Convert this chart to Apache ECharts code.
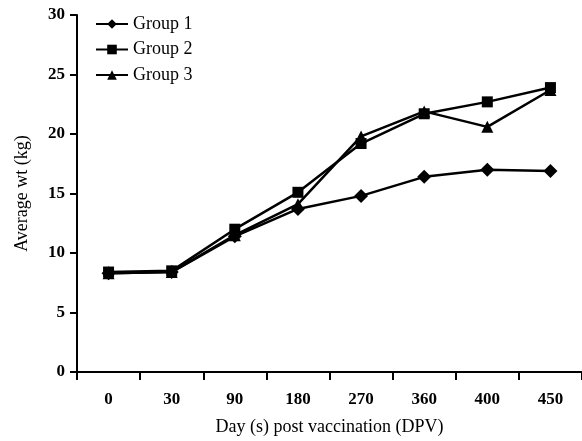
<!DOCTYPE html>
<html>
<head>
<meta charset="utf-8">
<script src="https://cdn.jsdelivr.net/npm/echarts@6/dist/echarts.min.js"></script>
<style>html,body{margin:0;padding:0;background:#fff;}#c{width:582px;height:441px;}</style>
</head>
<body>
<div id="c"></div>
<script>
var categories = ['0', '30', '90', '180', '270', '360', '400', '450'];
var group1 = [8.3, 8.4, 11.4, 13.7, 14.8, 16.4, 17.0, 16.9];
var group2 = [8.4, 8.5, 12.0, 15.1, 19.2, 21.7, 22.7, 23.9];
var group3 = [8.3, 8.4, 11.5, 14.1, 19.8, 21.9, 20.6, 23.7];
var seriesNames = ['Group 1', 'Group 2', 'Group 3'];
var yTicks = [0, 5, 10, 15, 20, 25, 30];

var font = 'Liberation Serif';
var chart = echarts.init(document.getElementById('c'), null, {renderer: 'canvas'});
function mk(name, data, symbol, size) {
  return {
    name: name, type: 'line', data: data, symbol: symbol, symbolSize: size,
    lineStyle: {color: '#000', width: 2.5},
    itemStyle: {color: '#000'},
    animation: false
  };
}
chart.setOption({
  backgroundColor: '#fff',
  animation: false,
  grid: {left: 77, right: -3, top: 15, bottom: 68, containLabel: false},
  legend: {
    orient: 'vertical', left: 90, top: 10, itemGap: 7.5,
    itemWidth: 32, itemHeight: 12,
    textStyle: {fontFamily: font, fontSize: 18, lineHeight: 18, color: '#000'},
    data: seriesNames
  },
  xAxis: {
    type: 'category', data: categories, boundaryGap: true,
    name: 'Day (s) post vaccination (DPV)', nameLocation: 'middle', nameGap: 46,
    nameTextStyle: {fontFamily: font, fontSize: 18, color: '#000'},
    axisLine: {lineStyle: {color: '#000', width: 2}},
    axisTick: {show: true, length: 8, inside: false, lineStyle: {color: '#000', width: 2}},
    axisLabel: {fontFamily: font, fontSize: 17, fontWeight: 'bold', color: '#000', margin: 19, interval: 0},
    splitLine: {show: false}
  },
  yAxis: {
    type: 'value', min: yTicks[0], max: yTicks[yTicks.length - 1], interval: 5,
    name: 'Average wt (kg)', nameLocation: 'middle', nameGap: 46, nameRotate: 90,
    nameTextStyle: {fontFamily: font, fontSize: 18, color: '#000'},
    axisLine: {show: true, lineStyle: {color: '#000', width: 2}},
    axisTick: {show: true, length: 7, lineStyle: {color: '#000', width: 2}},
    axisLabel: {fontFamily: font, fontSize: 17, fontWeight: 'bold', color: '#000', margin: 12},
    splitLine: {show: false}
  },
  series: [
    mk(seriesNames[0], group1, 'diamond', 14),
    mk(seriesNames[1], group2, 'rect', 11),
    mk(seriesNames[2], group3, 'triangle', 12)
  ]
});
</script>
</body>
</html>
